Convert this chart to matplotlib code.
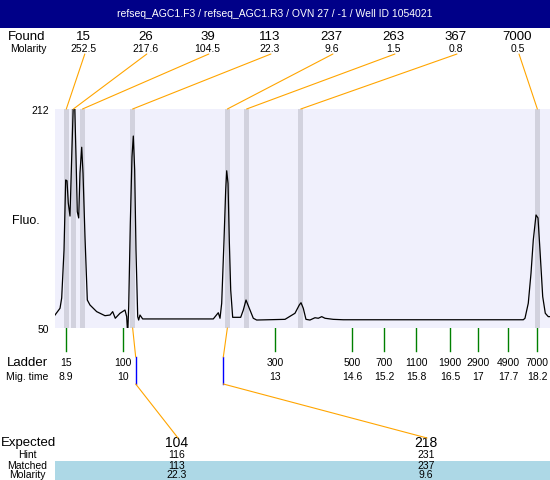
import matplotlib
matplotlib.use('Agg')
import matplotlib.pyplot as plt
from matplotlib.patches import Rectangle, ConnectionPatch
from matplotlib import transforms

plt.rcParams['font.family'] = ['Liberation Sans', 'DejaVu Sans']

title = "refseq_AGC1.F3 / refseq_AGC1.R3 / OVN 27 / -1 / Well ID 1054021"

# found peaks
found_size = ["15", "26", "39", "113", "237", "263", "367", "7000"]
found_molarity = ["252.5", "217.6", "104.5", "22.3", "9.6", "1.5", "0.8", "0.5"]
found_time = [8.90, 9.04, 9.22, 10.21, 12.08, 12.46, 13.53, 18.20]

# ladder
ladder_size = ["15", "100", "300", "500", "700", "1100", "1900", "2900", "4900", "7000"]
ladder_time = [8.90, 10.01, 13.03, 14.55, 15.18, 15.81, 16.48, 17.02, 17.63, 18.20]
ladder_time_label = ["8.9", "10", "13", "14.6", "15.2", "15.8", "16.5", "17", "17.7", "18.2"]

# expected fragments
expected_size = ["104", "218"]
hint_size = ["116", "231"]
matched_size = ["113", "237"]
matched_molarity = ["22.3", "9.6"]
matched_time = [10.21, 12.08]
expected_time = [10.27, 12.00]

# electropherogram trace (migration time s, fluorescence)
trace_t = [8.677, 8.776, 8.809, 8.855, 8.888, 8.914, 8.939, 8.973, 9.007, 9.038,
           9.066, 9.092, 9.117, 9.145, 9.170, 9.204, 9.230, 9.269, 9.315, 9.368,
           9.500, 9.664, 9.763, 9.816, 9.867, 9.960, 10.059, 10.092, 10.112, 10.132,
           10.164, 10.197, 10.223, 10.250, 10.276, 10.310, 10.329, 10.355, 10.408, 11.802,
           11.901, 11.935, 11.968, 12.014, 12.047, 12.067, 12.093, 12.118, 12.146, 12.185,
           12.343, 12.395, 12.448, 12.513, 12.592, 12.659, 13.218, 13.415, 13.500, 13.534,
           13.579, 13.632, 13.711, 13.810, 13.875, 13.943, 14.008, 14.171, 14.369, 17.923,
           17.956, 18.021, 18.075, 18.120, 18.174, 18.213, 18.252, 18.306, 18.357, 18.416,
           18.450]
trace_f = [59.6, 64.6, 72.2, 107.7, 159.5, 158.9, 142.5, 132.8, 176.7, 215.0,
           215.0, 176.7, 136.0, 131.4, 164.6, 183.7, 164.6, 117.5, 70.7, 67.0,
           62.1, 59.1, 59.6, 62.1, 57.2, 60.9, 63.3, 58.4, 45.0, 65.8,
           127.4, 176.7, 192.0, 166.9, 107.7, 58.4, 55.9, 59.6, 56.7, 56.7,
           61.3, 57.2, 68.3, 115.1, 152.1, 166.3, 157.0, 115.1, 78.1, 57.9,
           57.9, 63.3, 70.7, 64.6, 57.2, 55.9, 56.4, 60.9, 67.0, 68.7,
           64.6, 56.4, 55.9, 57.6, 57.2, 58.4, 57.2, 56.4, 56.1, 56.1,
           57.2, 68.3, 90.5, 115.1, 133.6, 131.4, 107.7, 73.2, 60.9, 58.4,
           58.4]

orange = '#ffa500'
small = 7.5
big = 9.5

fig = plt.figure(figsize=(5.5, 4.8), dpi=100)
canvas = fig.add_axes([0, 0, 1, 1])
canvas.set_xlim(0, 550)
canvas.set_ylim(480, 0)
canvas.axis('off')

# plot area
ax = fig.add_axes([55 / 550, 152 / 480, 495 / 550, 219 / 480])
ax.set_facecolor('#f0f0fc')
ax.set_xlim(8.677, 18.45)
ax.set_ylim(50, 212)
for s in ax.spines.values():
    s.set_visible(False)
ax.set_xticks([])
ax.set_yticks([])
for t in found_time:
    ax.axvspan(t - 0.05, t + 0.05, color='#d2d2de', lw=0)
ax.plot(trace_t, trace_f, color='black', lw=0.9)

bx = transforms.blended_transform_factory(ax.transData, canvas.transData)

# title bar
canvas.add_patch(Rectangle((0, 0), 550, 28, color='#000088', lw=0))
canvas.text(275, 14, title, color='white', ha='center', va='center', fontsize=7.5)

# found rows
canvas.text(8, 37, "Found", ha='left', va='center', fontsize=big)
canvas.text(10, 49, "Molarity", ha='left', va='center', fontsize=small)
for i, t in enumerate(found_time):
    x = 83.3 + 62.03 * i
    canvas.text(x, 37, found_size[i], ha='center', va='center', fontsize=big)
    canvas.text(x, 49, found_molarity[i], ha='center', va='center', fontsize=small)
    con = ConnectionPatch(xyA=(x + 1.5, 54), coordsA=canvas.transData,
                          xyB=(t, 212), coordsB=ax.transData, color=orange, lw=0.8)
    fig.add_artist(con)

# y labels
canvas.text(12, 221, "Fluo.", ha='left', va='center', fontsize=9)
canvas.text(49, 111, "212", ha='right', va='center', fontsize=small)
canvas.text(49, 330, "50", ha='right', va='center', fontsize=small)

# ladder
for i, t in enumerate(ladder_time):
    canvas.plot([t, t], [328, 351], transform=bx, color='#008000', lw=1)
    canvas.text(t, 363, ladder_size[i], transform=bx, ha='center', va='center', fontsize=small)
    canvas.text(t, 377, ladder_time_label[i], transform=bx, ha='center', va='center', fontsize=small)
canvas.text(7, 363, "Ladder", ha='left', va='center', fontsize=big)
canvas.text(6, 377, "Mig. time", ha='left', va='center', fontsize=small)

# expected table
canvas.add_patch(Rectangle((55, 461), 495, 19, color='lightblue', lw=0))
canvas.text(1, 443, "Expected", ha='left', va='center', fontsize=9.5)
canvas.text(27, 455, "Hint", ha='center', va='center', fontsize=small)
canvas.text(27, 466, "Matched", ha='center', va='center', fontsize=small)
canvas.text(27, 475, "Molarity", ha='center', va='center', fontsize=small)
exp_x = [177, 426]
for i in range(len(expected_size)):
    x = exp_x[i]
    canvas.text(x, 443, expected_size[i], ha='center', va='center', fontsize=10)
    canvas.text(x, 455, hint_size[i], ha='center', va='center', fontsize=small)
    canvas.text(x, 466, matched_size[i], ha='center', va='center', fontsize=small)
    canvas.text(x, 475, matched_molarity[i], ha='center', va='center', fontsize=small)
    et = expected_time[i]
    fig.add_artist(ConnectionPatch(xyA=(matched_time[i], 50), coordsA=ax.transData,
                                   xyB=(et, 357), coordsB=bx, color=orange, lw=0.8))
    canvas.plot([et, et], [357, 384], transform=bx, color='blue', lw=1)
    fig.add_artist(ConnectionPatch(xyA=(et, 384), coordsA=bx,
                                   xyB=(x + 1, 438), coordsB=canvas.transData,
                                   color=orange, lw=0.8))

fig.savefig('out.png', dpi=100)
